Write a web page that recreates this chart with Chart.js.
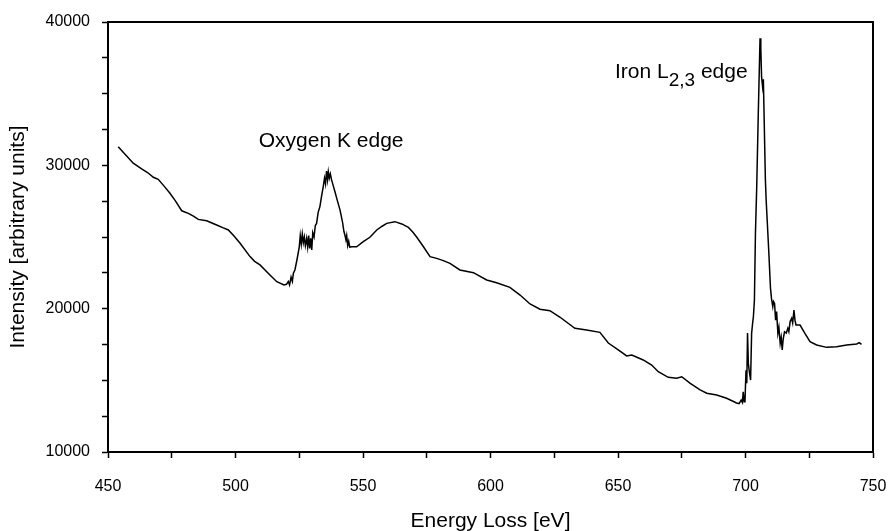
<!DOCTYPE html>
<html lang="en">
<head>
  <meta charset="UTF-8" />
  <title>EELS spectrum</title>
  <script src="https://cdn.jsdelivr.net/npm/chart.js"></script>
  <style>
    body { margin: 0; background: #fff; }
    #wrap { width: 891px; height: 531px; }
  </style>
</head>
<body>
  <div id="wrap"><canvas id="eels"></canvas></div>

  <script>
    // energy loss [eV] and intensity
    const energy = [
      454.0, 456.5, 459.9, 463.2, 465.5, 467.8, 469.7, 472.0, 474.3, 476.5,
      478.9, 481.5, 483.5, 485.4, 488.7, 492.6, 495.0, 497.2, 499.5, 501.8,
      505.7, 507.5, 509.6, 513.5, 516.2, 519.0, 520.0, 520.7, 521.2, 521.8,
      522.3, 522.7, 523.3, 524.2, 525.0, 525.4, 525.8, 526.2, 526.6, 527.0,
      527.4, 527.9, 528.3, 528.7, 529.1, 529.5, 529.9, 530.3, 530.8, 531.3,
      531.8, 532.4, 533.1, 533.8, 534.4, 534.9, 535.3, 535.7, 536.1, 536.4,
      536.8, 537.2, 537.7, 538.3, 539.0, 540.0, 541.0, 542.0, 542.5, 542.9,
      543.3, 543.6, 544.0, 544.4, 544.8, 545.6, 547.5, 550.1, 552.7, 555.4,
      557.5, 559.3, 562.5, 565.2, 567.8, 569.5, 571.1, 573.7, 576.3, 578.9,
      581.5, 584.1, 588.0, 593.3, 598.5, 602.4, 607.6, 611.6, 615.5, 619.4,
      623.3, 627.3, 633.1, 637.7, 642.9, 646.2, 650.1, 653.4, 655.4, 659.9,
      663.2, 665.8, 669.7, 673.0, 675.0, 678.2, 682.2, 684.8, 688.7, 692.6,
      696.5, 697.5, 698.3, 698.8, 699.1, 699.5, 699.8, 700.2, 700.5, 700.8,
      701.1, 701.5, 702.0, 702.4, 702.8, 703.1, 703.5, 703.9, 704.4, 705.0,
      705.7, 706.0, 706.3, 706.7, 707.0, 707.3, 707.8, 708.1, 709.1, 709.8,
      710.2, 710.7, 711.0, 711.4, 711.8, 712.2, 712.7, 713.1, 713.6, 714.0,
      714.4, 714.8, 715.3, 716.0, 716.6, 717.0, 717.5, 718.1, 718.5, 719.0,
      719.4, 719.8, 721.4, 723.3, 725.3, 727.9, 731.8, 735.7, 739.7, 743.6,
      744.6, 745.5
    ];
    const intensity = [
      31300, 30800, 30150, 29750, 29500, 29170, 29020, 28550, 28050, 27500,
      26830, 26650, 26450, 26230, 26130, 25840, 25650, 25490, 25050, 24560,
      23630, 23300, 23050, 22350, 21880, 21650, 21700, 21900, 21650, 22200,
      21900, 22470, 22700, 23500, 24300, 25100, 24500, 25200, 24600, 25000,
      24400, 24900, 24300, 25100, 24200, 24900, 24100, 25300, 25000, 25800,
      25950, 26700, 27120, 27900, 28500, 29100, 28700, 29600, 29000, 29550,
      29100, 29400, 28970, 28600, 28160, 27500, 26880, 26000, 25400, 25140,
      24800, 25100, 24400, 24700, 24300, 24320, 24320, 24670, 24980, 25490,
      25750, 25950, 26070, 25910, 25670, 25350, 24980, 24320, 23630, 23510,
      23350, 23160, 22700, 22510, 22000, 21810, 21490, 20950, 20330, 19960,
      19860, 19400, 18630, 18510, 18350, 17600, 17120, 16700, 16770, 16420,
      16070, 15600, 15210, 15140, 15250, 14800, 14330, 14100, 13970, 13750,
      13420, 13380, 13620, 13450, 14200, 13500, 13550, 15700, 14800, 18300,
      16200, 15600, 15020, 18280, 19000, 19440, 20600, 25260, 28500, 33500,
      38860, 38200, 36180, 35490, 36000, 33390, 29000, 27580, 24090, 21420,
      20700, 20140, 20500, 20370, 19200, 19800, 18280, 18700, 17580, 18000,
      17120, 17900, 18390, 18300, 18630, 18400, 19100, 19330, 19000, 19910,
      19200, 18860, 18860, 18280, 17700, 17470, 17300, 17350, 17470, 17540,
      17630, 17510
    ];

    const xMin = 450, xMax = 750, xStep = 25, xLabelEvery = 50;
    const yMin = 10000, yMax = 40000, yStep = 2500, yLabelEvery = 10000;

    const FONT = "'Liberation Sans', Arial, sans-serif";

    const points = energy.map((e, i) => ({ x: e, y: intensity[i] }));

    // text labels placed in data space
    const notes = [
      { x: 537.5, y: 31280, parts: [{ t: 'Oxygen K edge' }], align: 'center' },
      { x: 648.8, y: 36090, parts: [{ t: 'Iron L' }, { t: '2,3', sub: true }, { t: ' edge' }], align: 'left' }
    ];

    const frame = {
      id: 'frame',
      afterDraw(chart) {
        const { ctx, chartArea: a, scales } = chart;
        ctx.save();
        ctx.strokeStyle = '#000';
        ctx.lineWidth = 2;
        ctx.strokeRect(a.left, a.top, a.right - a.left, a.bottom - a.top);

        ctx.fillStyle = '#000';
        ctx.textBaseline = 'alphabetic';
        notes.forEach(n => {
          const px = scales.x.getPixelForValue(n.x);
          const py = scales.y.getPixelForValue(n.y);
          let total = 0;
          n.parts.forEach(p => {
            ctx.font = (p.sub ? '19px ' : '21px ') + FONT;
            total += ctx.measureText(p.t).width;
          });
          let cx = n.align === 'center' ? px - total / 2 : px;
          n.parts.forEach(p => {
            ctx.font = (p.sub ? '19px ' : '21px ') + FONT;
            ctx.textAlign = 'left';
            ctx.fillText(p.t, cx, p.sub ? py + 8 : py);
            cx += ctx.measureText(p.t).width;
          });
        });
        ctx.restore();
      }
    };

    new Chart(document.getElementById('eels'), {
      type: 'line',
      data: {
        datasets: [{
          data: points,
          borderColor: '#000',
          borderWidth: 1.5,
          pointRadius: 0,
          tension: 0,
          fill: false
        }]
      },
      options: {
        responsive: true,
        maintainAspectRatio: false,
        animation: false,
        parsing: false,
        layout: { padding: { left: 0, top: 22, right: 18, bottom: 0 } },
        plugins: { legend: { display: false }, tooltip: { enabled: false } },
        scales: {
          x: {
            type: 'linear',
            min: xMin,
            max: xMax,
            afterFit: s => { s.height = 79; s.paddingLeft = 0; s.paddingRight = 0; },
            border: { display: true, color: '#000', width: 2 },
            grid: { drawOnChartArea: false, drawTicks: true, tickLength: 6, tickColor: '#000', tickWidth: 1.5 },
            ticks: {
              stepSize: xStep,
              maxRotation: 0,
              autoSkip: false,
              padding: 19,
              color: '#000',
              font: { family: FONT, size: 16 },
              callback: v => (v % xLabelEvery === 0 ? v : '')
            },
            title: {
              display: true,
              text: 'Energy Loss [eV]',
              color: '#000',
              font: { family: FONT, size: 21, lineHeight: 1 },
              padding: { top: 0, bottom: -1 }
            }
          },
          y: {
            min: yMin,
            max: yMax,
            afterFit: s => { s.width = 108; s.paddingTop = 0; s.paddingBottom = 0; },
            border: { display: true, color: '#000', width: 2 },
            grid: { drawOnChartArea: false, drawTicks: true, tickLength: 6, tickColor: '#000', tickWidth: 1.5 },
            ticks: {
              stepSize: yStep,
              autoSkip: false,
              padding: 12,
              color: '#000',
              font: { family: FONT, size: 16 },
              callback: v => (v % yLabelEvery === 0 ? v : '')
            },
            title: {
              display: true,
              text: 'Intensity [arbitrary units]',
              color: '#000',
              font: { family: FONT, size: 21, lineHeight: 1 },
              padding: { top: 8, bottom: 0 }
            }
          }
        }
      },
      plugins: [frame]
    });
  </script>
</body>
</html>
